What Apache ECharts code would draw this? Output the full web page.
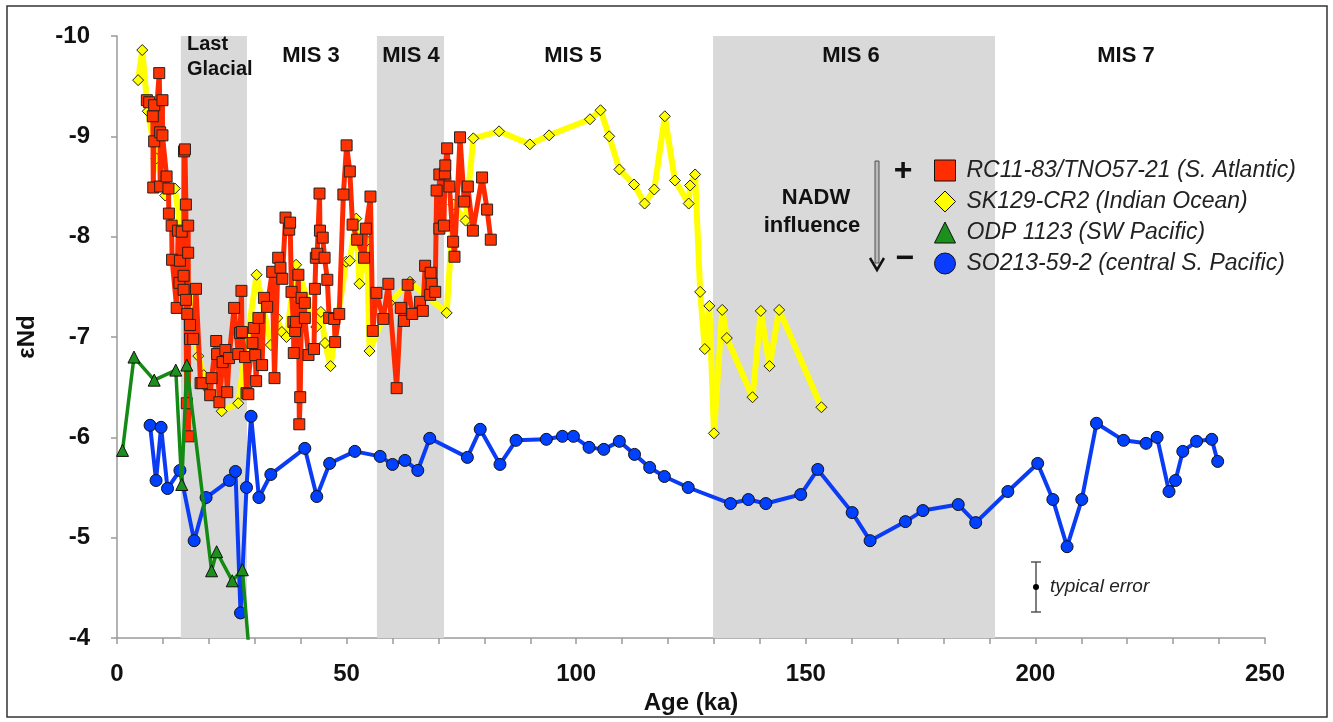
<!DOCTYPE html>
<html>
<head>
<meta charset="utf-8">
<script src="https://cdn.jsdelivr.net/npm/echarts@6/dist/echarts.min.js"></script>
<style>html,body{margin:0;padding:0;background:#fff}#c{width:1333px;height:722px}</style>
</head>
<body>
<div id="c"></div>
<script>
// ---- data (age in ka, εNd) ----
const redName = 'RC11-83/TNO57-21 (S. Atlantic)';
const yellowName = 'SK129-CR2 (Indian Ocean)';
const greenName = 'ODP 1123 (SW Pacific)';
const blueName = 'SO213-59-2 (central S. Pacific)';

const redAge = [6.5,7.0,7.8,7.9,8.1,8.1,9.2,9.4,9.4,9.9,9.9,10.8,11.2,11.3,11.9,12.0,13.0,13.3,13.6,13.7,14.1,14.5,14.5,14.6,14.8,15.0,15.0,15.2,15.6,15.5,15.5,15.3,15.9,15.9,16.6,17.2,18.2,18.6,20.3,20.6,21.6,21.8,22.3,23.0,23.6,24.0,24.4,25.5,26.4,26.8,27.1,27.2,27.9,28.2,28.6,29.5,29.8,30.1,30.3,30.8,31.6,32.0,32.7,33.8,34.3,35.1,35.6,36.0,36.7,37.5,37.7,38.0,38.4,38.5,38.8,39.0,39.5,39.7,39.9,40.2,40.9,40.9,41.7,42.9,43.1,43.3,43.6,44.1,44.2,44.8,45.2,45.8,46.2,47.3,47.5,48.4,49.3,50.0,50.7,51.3,52.3,53.8,54.2,55.2,55.7,56.5,58.0,59.1,60.9,61.8,62.5,63.3,64.3,66.0,66.6,67.1,68.2,68.3,68.5,69.3,69.6,70.2,70.2,71.2,71.4,71.5,71.9,72.4,73.2,73.5,74.7,75.6,76.4,77.5,79.5,80.6,81.4];
const redEnd = [-9.36,-9.34,-9.20,-8.49,-9.31,-8.95,-9.63,-9.04,-8.50,-9.36,-9.01,-8.60,-8.48,-8.23,-8.11,-7.77,-7.29,-8.06,-7.54,-7.76,-8.05,-7.61,-7.47,-8.85,-8.87,-8.32,-7.37,-6.34,-6.01,-8.11,-7.84,-7.23,-7.12,-6.98,-6.98,-7.48,-6.54,-6.54,-6.42,-6.59,-6.96,-6.83,-6.35,-6.75,-6.87,-6.45,-6.79,-7.29,-6.83,-7.04,-7.46,-7.05,-6.80,-6.44,-6.43,-6.94,-7.09,-6.82,-6.56,-7.19,-6.72,-7.39,-7.30,-7.65,-6.59,-7.79,-7.69,-7.58,-8.19,-8.07,-8.14,-7.45,-7.15,-6.84,-7.06,-7.15,-7.62,-6.13,-6.40,-7.39,-7.34,-7.19,-6.82,-6.88,-7.48,-7.79,-7.83,-8.43,-8.06,-7.99,-7.79,-7.57,-7.19,-7.18,-6.95,-7.23,-8.42,-8.91,-8.65,-8.12,-7.97,-7.79,-8.08,-8.40,-7.06,-7.44,-7.18,-7.53,-6.49,-7.29,-7.16,-7.52,-7.23,-7.35,-7.26,-7.71,-7.42,-7.64,-7.53,-7.45,-8.46,-8.08,-8.62,-8.11,-8.63,-8.71,-8.88,-8.50,-7.95,-7.80,-8.99,-8.35,-8.50,-8.06,-8.59,-8.27,-7.97];

const yellowAge = [4.6,5.5,6.7,8.6,10.5,12.6,17.7,18.9,22.8,26.4,30.4,33.5,34.9,35.9,36.9,39.0,43.4,44.4,45.3,46.5,49.9,50.7,52.1,52.8,54.4,55.0,59.3,63.8,71.8,73.3,75.9,77.6,83.2,89.9,94.1,103.0,105.3,107.2,109.4,112.6,114.9,117.0,119.3,121.5,124.5,124.8,125.9,127.0,128.0,129.0,130.0,131.8,132.8,138.4,140.2,142.1,144.2,153.4];
const yellowEnd = [-9.56,-9.86,-9.25,-8.78,-8.41,-8.48,-6.81,-6.62,-6.26,-6.34,-7.62,-6.92,-7.19,-7.05,-7.00,-7.72,-7.10,-7.25,-6.94,-6.71,-7.75,-7.76,-8.18,-7.53,-7.96,-6.86,-7.34,-7.55,-7.24,-8.32,-8.16,-8.98,-9.05,-8.92,-9.01,-9.17,-9.26,-9.00,-8.67,-8.52,-8.33,-8.47,-9.20,-8.56,-8.33,-8.51,-8.62,-7.45,-6.88,-7.31,-6.04,-7.27,-6.99,-6.40,-7.26,-6.71,-7.27,-6.30];

const greenAge = [1.2,3.7,8.1,12.8,14.1,15.2,20.6,21.7,25.1,27.3,29.6];
const greenEnd = [-5.87,-6.80,-6.57,-6.67,-5.53,-6.72,-4.67,-4.86,-4.57,-4.68,-3.4];

const blueAge = [7.2,8.5,9.6,11.0,13.7,16.8,19.4,24.5,25.8,26.9,28.2,29.2,30.9,33.5,40.9,43.5,46.3,51.8,57.3,60.0,62.7,65.5,68.1,76.3,79.1,83.4,86.9,93.5,97.0,99.4,102.8,106.0,109.4,112.7,116.0,119.2,124.4,133.6,137.5,141.3,148.9,152.6,160.1,164.0,171.7,175.5,183.2,187.0,194.0,200.5,203.8,206.9,210.1,213.3,219.2,224.1,226.5,229.1,230.5,232.1,235.1,238.4,239.7];
const blueEnd = [-6.12,-5.57,-6.10,-5.49,-5.67,-4.97,-5.40,-5.57,-5.66,-4.25,-5.50,-6.21,-5.40,-5.63,-5.89,-5.41,-5.74,-5.86,-5.81,-5.73,-5.77,-5.67,-5.99,-5.80,-6.08,-5.73,-5.97,-5.98,-6.01,-6.01,-5.90,-5.88,-5.96,-5.83,-5.70,-5.61,-5.50,-5.34,-5.38,-5.34,-5.43,-5.68,-5.25,-4.97,-5.16,-5.27,-5.33,-5.15,-5.46,-5.74,-5.38,-4.91,-5.38,-6.14,-5.97,-5.94,-6.00,-5.46,-5.57,-5.86,-5.96,-5.98,-5.76];

// shaded intervals (ka)
const bands = [[13.9, 28.3], [56.6, 71.2], [129.8, 191.2]];
const periodLabels = ['MIS 3', 'MIS 4', 'MIS 5', 'MIS 6', 'MIS 7'];
const xTicks = [0, 50, 100, 150, 200, 250];
const yTicks = [-10, -9, -8, -7, -6, -5, -4];

const zip = (a, b) => a.map((v, i) => [v, b[i]]);
const FONT = '"Liberation Sans", Arial, sans-serif';

const chart = echarts.init(document.getElementById('c'), null, {renderer: 'canvas'});

const labelPos = [311, 411, 573, 851, 1126];

chart.setOption({
  animation: false,
  backgroundColor: '#fff',
  textStyle: {fontFamily: FONT},
  grid: {left: 117, right: 68, top: 36, bottom: 84, containLabel: false},
  xAxis: {
    type: 'value', min: 0, max: 250, interval: 10,
    name: 'Age (ka)', nameLocation: 'middle', nameGap: 52,
    nameTextStyle: {fontSize: 24, fontWeight: 'bold', color: '#111', fontFamily: FONT},
    axisLine: {show: true, lineStyle: {color: '#9a9a9a', width: 1.5}},
    axisTick: {show: true, length: 6, lineStyle: {color: '#9a9a9a', width: 1.5}},
    axisLabel: {
      margin: 24, fontSize: 24, fontWeight: 'bold', color: '#111', fontFamily: FONT,
      formatter: v => (xTicks.indexOf(v) >= 0 ? String(v) : '')
    },
    splitLine: {show: false}
  },
  yAxis: {
    type: 'value', inverse: true, min: -10, max: -4, interval: 1,
    name: 'εNd', nameLocation: 'middle', nameGap: 78,
    nameTextStyle: {fontSize: 24, fontWeight: 'bold', color: '#111', fontFamily: FONT},
    axisLine: {show: true, lineStyle: {color: '#9a9a9a', width: 1.5}},
    axisTick: {show: true, length: 6, lineStyle: {color: '#9a9a9a', width: 1.5}},
    axisLabel: {
      margin: 27, fontSize: 24, fontWeight: 'bold', color: '#111', fontFamily: FONT,
      formatter: v => (yTicks.indexOf(v) >= 0 ? String(v) : '')
    },
    splitLine: {show: false}
  },
  legend: {
    orient: 'vertical', left: 929, top: 154,
    itemWidth: 21, itemHeight: 21, itemGap: 8,
    selectedMode: false,
    textStyle: {fontSize: 23, fontStyle: 'italic', color: '#222', fontFamily: FONT, padding: [0, 0, 0, 6]},
    data: [
      {name: redName, icon: 'rect', itemStyle: {color: '#ff2d00', borderColor: '#111', borderWidth: 1}},
      {name: yellowName, icon: 'diamond', itemStyle: {color: '#ffff00', borderColor: '#111', borderWidth: 1}},
      {name: greenName, icon: 'triangle', itemStyle: {color: '#1c8f1c', borderColor: '#111', borderWidth: 1}},
      {name: blueName, icon: 'circle', itemStyle: {color: '#0a3cff', borderColor: '#111', borderWidth: 1}}
    ]
  },
  series: [
    {
      name: 'bands', type: 'line', data: [], z: 1, silent: true,
      markArea: {
        silent: true,
        itemStyle: {color: '#d9d9d9'},
        data: bands.map(b => [{xAxis: b[0]}, {xAxis: b[1]}])
      }
    },
    {
      name: yellowName, type: 'line', z: 3, data: zip(yellowAge, yellowEnd),
      symbol: 'diamond', symbolSize: 11,
      lineStyle: {color: '#ffff00', width: 6},
      itemStyle: {color: '#ffff00', borderColor: '#222', borderWidth: 1}
    },
    {
      name: redName, type: 'line', z: 4, data: zip(redAge, redEnd),
      symbol: 'rect', symbolSize: 11,
      lineStyle: {color: '#ff2a00', width: 5},
      itemStyle: {color: '#ff3300', borderColor: '#222', borderWidth: 1}
    },
    {
      name: blueName, type: 'line', z: 5, data: zip(blueAge, blueEnd),
      symbol: 'circle', symbolSize: 12,
      lineStyle: {color: '#0a3cf5', width: 4},
      itemStyle: {color: '#0040ff', borderColor: '#111', borderWidth: 1}
    },
    {
      name: greenName, type: 'line', z: 6, data: zip(greenAge, greenEnd),
      symbol: 'triangle', symbolSize: 12,
      lineStyle: {color: '#138a13', width: 3.5},
      itemStyle: {color: '#1c8f1c', borderColor: '#111', borderWidth: 1}
    }
  ],
  graphic: [
    {type: 'rect', shape: {x: 7, y: 6, width: 1320, height: 711}, style: {fill: 'none', stroke: '#333', lineWidth: 1.5}, z: 100},
    {type: 'text', left: 187, top: 34, style: {text: 'Last', font: 'bold 20px ' + FONT, fill: '#111'}, z: 100},
    {type: 'text', left: 187, top: 59, style: {text: 'Glacial', font: 'bold 20px ' + FONT, fill: '#111'}, z: 100},
    ...periodLabels.map((t, i) => ({
      type: 'text', x: labelPos[i], y: 56,
      style: {text: t, font: 'bold 22px ' + FONT, fill: '#111', align: 'center', verticalAlign: 'middle'}, z: 100
    })),
    {type: 'text', x: 816, y: 198, style: {text: 'NADW', font: 'bold 22px ' + FONT, fill: '#111', align: 'center', verticalAlign: 'middle'}, z: 100},
    {type: 'text', x: 812, y: 226, style: {text: 'influence', font: 'bold 22px ' + FONT, fill: '#111', align: 'center', verticalAlign: 'middle'}, z: 100},
    {type: 'rect', shape: {x: 875, y: 161, width: 4, height: 102}, style: {fill: '#bbb', stroke: '#333', lineWidth: 0.8}, z: 100},
    {type: 'polyline', shape: {points: [[870, 258], [877, 270], [884, 258]]}, style: {stroke: '#111', lineWidth: 2.5, fill: 'none'}, z: 100},
    {type: 'text', x: 903, y: 171, style: {text: '+', font: '900 32px ' + FONT, fill: '#111', align: 'center', verticalAlign: 'middle'}, z: 100},
    {type: 'text', x: 905, y: 259, style: {text: '−', font: '900 32px ' + FONT, fill: '#111', align: 'center', verticalAlign: 'middle'}, z: 100},
    {type: 'line', shape: {x1: 1036, y1: 562, x2: 1036, y2: 612}, style: {stroke: '#555', lineWidth: 1.5}, z: 100},
    {type: 'line', shape: {x1: 1031, y1: 562, x2: 1041, y2: 562}, style: {stroke: '#555', lineWidth: 1.5}, z: 100},
    {type: 'line', shape: {x1: 1031, y1: 612, x2: 1041, y2: 612}, style: {stroke: '#555', lineWidth: 1.5}, z: 100},
    {type: 'circle', shape: {cx: 1036, cy: 587, r: 3}, style: {fill: '#000'}, z: 100},
    {type: 'text', x: 1050, y: 587, style: {text: 'typical error', font: 'italic 19px ' + FONT, fill: '#222', verticalAlign: 'middle'}, z: 100}
  ]
});
</script>
</body>
</html>
